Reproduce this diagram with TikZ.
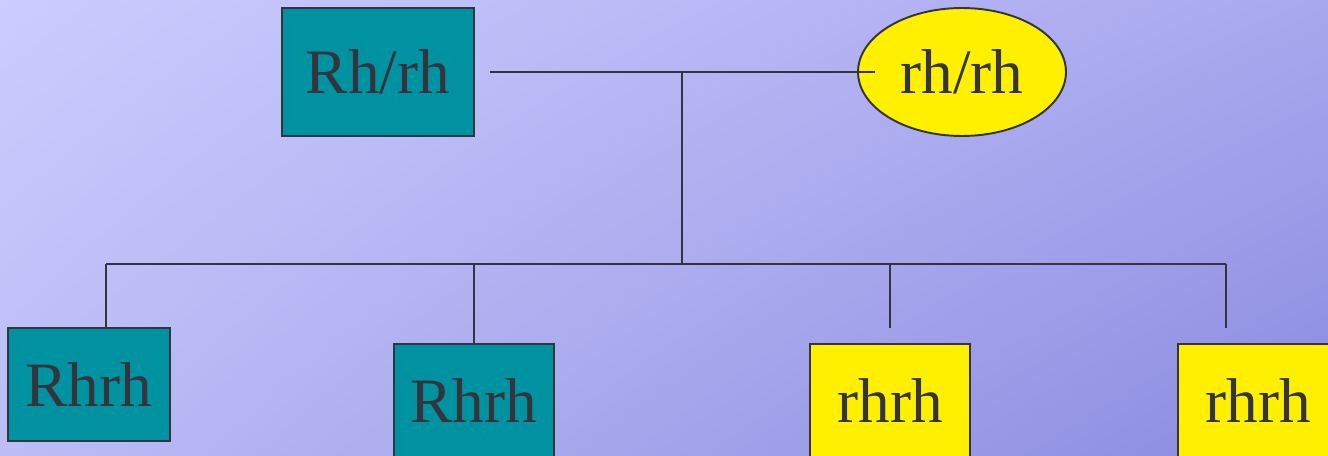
\documentclass[tikz,border=0pt]{standalone}
\usepackage{fontspec}
\setmainfont{Liberation Serif}
\usetikzlibrary{shapes.geometric,shadings}
\definecolor{bgTL}{RGB}{204,204,255}
\definecolor{bgTR}{RGB}{168,168,238}
\definecolor{bgBL}{RGB}{188,188,246}
\definecolor{bgBR}{RGB}{138,138,224}
\definecolor{tealfill}{RGB}{0,146,160}
\definecolor{yellowfill}{RGB}{255,240,0}
\definecolor{inkgray}{RGB}{52,52,60}
\begin{document}
\begin{tikzpicture}[
  x=0.02cm, y=-0.02cm,
  geno/.style={draw=inkgray, line width=1.1pt, text=inkgray, font=\fontsize{36}{40}\selectfont, inner sep=0pt},
  domBox/.style={geno, rectangle, fill=tealfill},
  recBox/.style={geno, rectangle, fill=yellowfill},
  recOval/.style={geno, ellipse, fill=yellowfill},
  wire/.style={draw=inkgray, line width=1.1pt}
]
\useasboundingbox (0,0) rectangle (1328,456);
\clip (0,0) rectangle (1328,456);
\shade[upper left=bgTL, upper right=bgTR, lower left=bgBL, lower right=bgBR] (0,0) rectangle (1328,456);
% parents
\node[domBox, minimum width=3.84cm, minimum height=2.56cm] (father) at (378,72) {Rh/rh};
\node[recOval, minimum width=4.16cm, minimum height=2.56cm] (mother) at (962,72) {rh/rh};
% offspring
\node[domBox, minimum width=3.24cm, minimum height=2.26cm] (kid1) at (89,384.5) {Rhrh};
\node[domBox, minimum width=3.2cm, minimum height=2.26cm] (kid2) at (474,400.5) {Rhrh};
\node[recBox, minimum width=3.2cm, minimum height=2.26cm] (kid3) at (890,400.5) {rhrh};
\node[recBox, minimum width=3.2cm, minimum height=2.26cm] (kid4) at (1258,400.5) {rhrh};
% cross lines
\coordinate (crossL) at (490,72);
\coordinate (crossR) at (875,72);
\coordinate (cross) at (682,72);
\coordinate (busL) at (106,264);
\coordinate (busR) at (1226,264);
\draw[wire] (crossL) -- (crossR);
\draw[wire] (cross) -- (cross |- busL);
\draw[wire] (busL) -- (busR);
\draw[wire] (busL) -- (busL |- kid1.north);
\draw[wire] (kid2.north) -- (kid2.north |- busL);
\draw[wire] (busL -| kid3.north) -- ++(0,64);
\draw[wire] (busR) -- ++(0,64);
\end{tikzpicture}
\end{document}
